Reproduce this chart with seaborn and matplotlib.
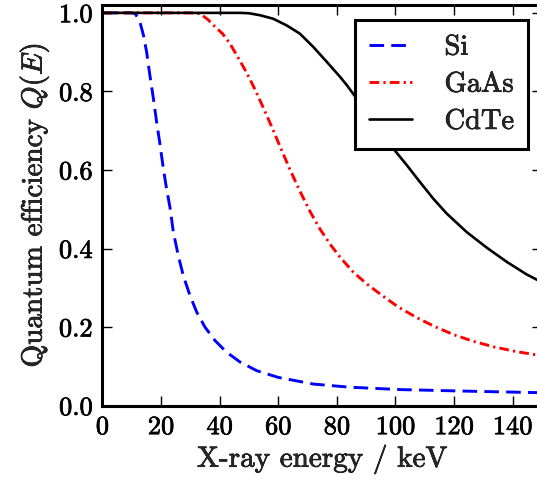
import numpy as np
import pandas as pd
import seaborn as sns
import matplotlib
matplotlib.use("Agg")
import matplotlib.pyplot as plt
import matplotlib.patheffects as pe

# ---- data ----
si_E = [0, 10, 11.2, 12.8, 14.0, 15.1, 16.2, 17.4, 18.5, 19.7, 20.8, 21.9, 23.1, 24.2,
        25.9, 27.6, 29.9, 32.2, 35.0, 38.4, 42.4, 47.0, 52.7, 60.0, 72.0, 84.5, 101.6,
        124.3, 150]
si_Q = [1.0, 1.0, 0.998, 0.977, 0.943, 0.900, 0.841, 0.782, 0.722, 0.663, 0.603, 0.552,
        0.503, 0.442, 0.382, 0.331, 0.280, 0.238, 0.200, 0.166, 0.136, 0.111, 0.089,
        0.072, 0.055, 0.047, 0.041, 0.037, 0.033]

gaas_E = [0, 30, 33.3, 36, 38, 41, 43.5, 46, 49.2, 52, 55, 58, 60.6, 64.0, 67.4, 70.8,
          74.3, 77.7, 81.1, 85.6, 90.2, 95.9, 101, 107.3, 113.5, 119.8, 126.5, 133.4,
          141, 150]
gaas_Q = [1.0, 1.0, 0.998, 0.983, 0.968, 0.947, 0.922, 0.890, 0.848, 0.806, 0.757, 0.706,
          0.660, 0.601, 0.546, 0.495, 0.449, 0.411, 0.378, 0.340, 0.310, 0.278, 0.251,
          0.224, 0.201, 0.181, 0.164, 0.150, 0.138, 0.127]

cdte_E = [0, 47, 50, 53.8, 58.3, 62.9, 67.4, 72.0, 76.6, 81.1, 83.4, 90, 95, 99.3, 103.9,
          108.4, 112.9, 117.5, 124.3, 131.2, 138.0, 144.8, 150]
cdte_Q = [1.0, 1.0, 0.999, 0.994, 0.985, 0.968, 0.947, 0.913, 0.875, 0.837, 0.816, 0.749,
          0.700, 0.654, 0.612, 0.569, 0.527, 0.489, 0.442, 0.402, 0.366, 0.334, 0.314]

x_ticks = [0, 20, 40, 60, 80, 100, 120, 140]
y_ticks = [0.0, 0.2, 0.4, 0.6, 0.8, 1.0]

sns.set_style("ticks")
plt.rcParams.update({
    "font.family": ["cmr10", "DejaVu Serif"],
    "mathtext.fontset": "cm",
    "axes.formatter.use_mathtext": True,
    "axes.unicode_minus": False,
    "lines.scale_dashes": False,
    "xtick.direction": "in",
    "ytick.direction": "in",
    "xtick.top": True,
    "ytick.right": True,
})

fig = plt.figure(figsize=(5.37, 4.81), dpi=100)
ax = fig.add_axes([0.1907, 0.1545, 0.8186, 0.833])

df_si = pd.DataFrame({"E": si_E, "Q": si_Q})
df_ga = pd.DataFrame({"E": gaas_E, "Q": gaas_Q})
df_cd = pd.DataFrame({"E": cdte_E, "Q": cdte_Q})

sns.lineplot(data=df_si, x="E", y="Q", ax=ax, color="#0000ff", lw=2.1,
             linestyle=(0, (10.5, 5.2)), label="Si", estimator=None, sort=False)
sns.lineplot(data=df_ga, x="E", y="Q", ax=ax, color="#ff0000", lw=2.1,
             linestyle=(0, (7, 3.0, 1.6, 3.0)), label="GaAs", estimator=None, sort=False)
sns.lineplot(data=df_cd, x="E", y="Q", ax=ax, color="black", lw=1.9,
             linestyle="-", label="CdTe", estimator=None, sort=False)

ax.set_xlim(0, 150)
ax.set_ylim(0, 1.02)
ax.set_xticks(x_ticks)
ax.set_yticks(y_ticks)
ax.set_xticklabels([str(t) for t in x_ticks])
ax.set_yticklabels([f"{t:.1f}" for t in y_ticks])
ax.tick_params(axis="both", which="major", length=7.2, width=1.0, labelsize=19,
               pad=7, colors="black")

for s in ax.spines.values():
    s.set_linewidth(2.2)
    s.set_color("black")

ax.set_xlabel("X-ray energy / keV", fontsize=21, labelpad=4)
ax.set_ylabel(r"Quantum efficiency $Q(E)$", fontsize=21, labelpad=6)

leg = ax.legend(loc="upper right", bbox_to_anchor=(0.969, 0.9626), borderaxespad=0,
                fontsize=20.5, frameon=True, fancybox=False, framealpha=1,
                edgecolor="black", handlelength=1.5, handletextpad=1.15,
                borderpad=0.5, labelspacing=0.38)
leg.get_frame().set_linewidth(2.2)

# slightly heavier glyphs, like the TeX-rendered reference
stroke = [pe.withStroke(linewidth=0.5, foreground="black")]
texts = (ax.get_xticklabels() + ax.get_yticklabels() +
         [ax.xaxis.label, ax.yaxis.label] + leg.get_texts())
for t in texts:
    t.set_path_effects(stroke)

fig.savefig("out.png", dpi=100)
